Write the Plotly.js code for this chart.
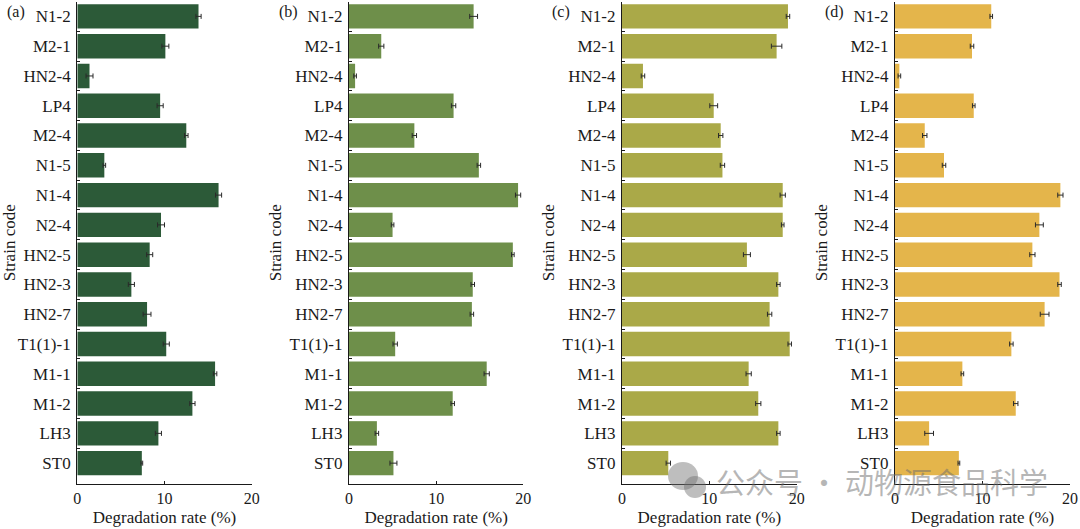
<!DOCTYPE html>
<html>
<head>
<meta charset="utf-8">
<script src="https://cdn.plot.ly/plotly-3.0.1.min.js"></script>
<style>
  html, body { margin: 0; padding: 0; background: #fff; }
  #chart { width: 1080px; height: 529px; }
</style>
</head>
<body>
<div id="chart"></div>
<script>
// strain codes, top to bottom
const strains = ['N1-2', 'M2-1', 'HN2-4', 'LP4', 'M2-4', 'N1-5', 'N1-4', 'N2-4',
                 'HN2-5', 'HN2-3', 'HN2-7', 'T1(1)-1', 'M1-1', 'M1-2', 'LH3', 'ST0'];

const panelLabels = ['(a)', '(b)', '(c)', '(d)'];
const panelColors = ['#2c5a38', '#6e8f4a', '#aaa948', '#e4b54b'];

// degradation rate (%) and error
const rateA = [13.9, 10.1, 1.4, 9.5, 12.5, 3.1, 16.2, 9.6, 8.3, 6.2, 8.0, 10.2, 15.8, 13.2, 9.3, 7.4];
const errA  = [0.3, 0.4, 0.4, 0.35, 0.2, 0.15, 0.35, 0.4, 0.35, 0.35, 0.45, 0.35, 0.2, 0.3, 0.35, 0.1];

const rateB = [14.3, 3.7, 0.7, 12.0, 7.5, 14.9, 19.4, 5.0, 18.8, 14.2, 14.1, 5.3, 15.8, 11.9, 3.2, 5.1];
const errB  = [0.45, 0.3, 0.15, 0.25, 0.25, 0.2, 0.3, 0.15, 0.15, 0.2, 0.2, 0.25, 0.3, 0.2, 0.2, 0.4];

const rateC = [19.0, 17.7, 2.4, 10.5, 11.3, 11.5, 18.4, 18.4, 14.3, 17.9, 16.9, 19.2, 14.5, 15.6, 17.9, 5.3];
const errC  = [0.2, 0.6, 0.2, 0.45, 0.25, 0.25, 0.3, 0.15, 0.4, 0.2, 0.25, 0.2, 0.3, 0.3, 0.2, 0.25];

const rateD = [11.0, 8.8, 0.5, 9.0, 3.4, 5.6, 18.9, 16.5, 15.7, 18.8, 17.1, 13.3, 7.7, 13.8, 3.9, 7.3];
const errD  = [0.15, 0.2, 0.15, 0.15, 0.25, 0.2, 0.3, 0.45, 0.3, 0.2, 0.5, 0.2, 0.15, 0.25, 0.5, 0.1];

const rates = [rateA, rateB, rateC, rateD];
const errs = [errA, errB, errC, errD];

const W = 1080, H = 529;
const serif = '"Liberation Serif", "DejaVu Serif", serif';
// left/right edges of each panel, px
const panelX = [[77.3, 251.7], [349, 523.3], [622, 796.7], [895, 1070]];
const yDomain = [1 - 484 / H, 1 - 1.5 / H];

const traces = rates.map((vals, i) => ({
    type: 'bar',
    orientation: 'h',
    x: vals,
    y: strains,
    xaxis: i === 0 ? 'x' : 'x' + (i + 1),
    yaxis: i === 0 ? 'y' : 'y' + (i + 1),
    marker: { color: panelColors[i], line: { width: 0 } },
    error_x: { type: 'data', array: errs[i], visible: true, color: '#2a2a2a', thickness: 1, width: 2.5 },
    hoverinfo: 'x+y',
    showlegend: false
}));

const layout = {
    width: W,
    height: H,
    margin: { l: 0, r: 0, t: 0, b: 0 },
    paper_bgcolor: '#fff',
    plot_bgcolor: '#fff',
    bargap: 0.18,
    font: { family: serif, size: 15, color: '#1a1a1a' },
    annotations: [],
    shapes: []
};

panelX.forEach((px, i) => {
    const sfx = i === 0 ? '' : String(i + 1);
    layout['xaxis' + sfx] = {
        domain: [px[0] / W, px[1] / W],
        anchor: 'y' + sfx,
        range: [0, 20],
        tickvals: [0, 10, 20],
        ticks: 'inside',
        ticklen: 3,
        tickcolor: '#1a1a1a',
        showline: true,
        linecolor: '#1a1a1a',
        linewidth: 1.2,
        showgrid: false,
        zeroline: false,
        tickfont: { family: serif, size: 16 },
        title: { text: 'Degradation rate (%)', font: { family: serif, size: 17 }, standoff: 4 },
        fixedrange: true
    };
    layout['yaxis' + sfx] = {
        domain: yDomain,
        anchor: 'x' + sfx,
        type: 'category',
        categoryorder: 'array',
        categoryarray: strains,
        range: [15.7, -0.5],
        tickson: 'boundaries',
        ticks: 'inside',
        ticklen: 3,
        tickcolor: '#1a1a1a',
        ticklabelstandoff: 2,
        showline: true,
        linecolor: '#1a1a1a',
        linewidth: 1.2,
        showgrid: false,
        zeroline: false,
        tickfont: { family: serif, size: 17 },
        title: { text: 'Strain code', font: { family: serif, size: 17 }, standoff: 3 },
        fixedrange: true
    };
    layout.annotations.push({
        xref: 'paper', yref: 'paper',
        x: (px[0] - 72) / W, y: 1 - 12 / H,
        xanchor: 'left', yanchor: 'middle',
        text: panelLabels[i],
        showarrow: false,
        font: { family: serif, size: 16 }
    });
});

// watermark at bottom right
layout.annotations.push({
    xref: 'paper', yref: 'paper',
    x: 714 / W, y: 1 - 481 / H,
    xanchor: 'left', yanchor: 'middle',
    text: '公众号 · 动物源食品科学',
    showarrow: false,
    font: { family: '"Noto Sans CJK SC", sans-serif', size: 29, color: 'rgba(110,110,110,0.5)' }
});
layout.shapes.push(
    { type: 'circle', xref: 'paper', yref: 'paper', layer: 'above', line: { width: 0 },
      fillcolor: 'rgba(110,110,110,0.45)',
      x0: 668 / W, x1: 698 / W, y0: 1 - 490 / H, y1: 1 - 462 / H },
    { type: 'circle', xref: 'paper', yref: 'paper', layer: 'above', line: { width: 0 },
      fillcolor: 'rgba(110,110,110,0.45)',
      x0: 684 / W, x1: 706 / W, y0: 1 - 498 / H, y1: 1 - 476 / H }
);

Plotly.newPlot('chart', traces, layout, { displayModeBar: false, staticPlot: true });
</script>
</body>
</html>
